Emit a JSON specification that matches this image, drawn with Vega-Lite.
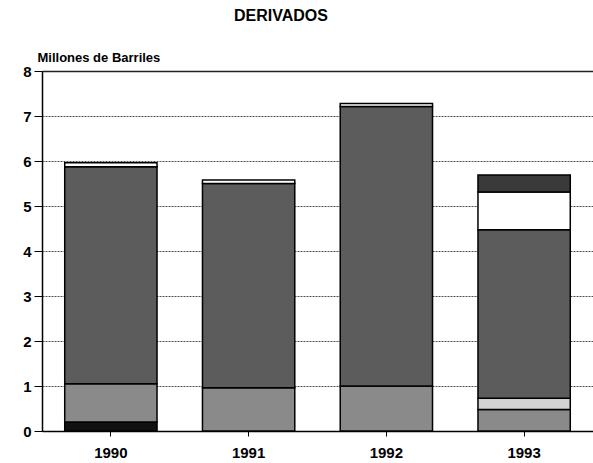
{
  "$schema": "https://vega.github.io/schema/vega-lite/v6.json",
  "autosize": "none",
  "width": 551,
  "height": 360,
  "padding": {"left": 42, "top": 71, "right": 0, "bottom": 32},
  "background": "#ffffff",
  "config": {
    "view": {"stroke": null},
    "font": "Liberation Sans"
  },
  "title": {
    "text": "DERIVADOS",
    "anchor": "start",
    "frame": "group",
    "dx": 192,
    "offset": 27,
    "fontSize": 16,
    "fontWeight": "bold",
    "font": "Liberation Sans",
    "color": "#000"
  },
  "data": {
    "values": [
      {"anio": "1990", "tipo": "s1", "orden": 1, "valor": 0.2},
      {"anio": "1990", "tipo": "s2", "orden": 2, "valor": 0.85},
      {"anio": "1990", "tipo": "s4", "orden": 4, "valor": 4.82},
      {"anio": "1990", "tipo": "s5", "orden": 5, "valor": 0.09},
      {"anio": "1991", "tipo": "s2", "orden": 2, "valor": 0.96},
      {"anio": "1991", "tipo": "s4", "orden": 4, "valor": 4.54},
      {"anio": "1991", "tipo": "s5", "orden": 5, "valor": 0.08},
      {"anio": "1992", "tipo": "s2", "orden": 2, "valor": 1.0},
      {"anio": "1992", "tipo": "s4", "orden": 4, "valor": 6.21},
      {"anio": "1992", "tipo": "s5", "orden": 5, "valor": 0.07},
      {"anio": "1993", "tipo": "s2", "orden": 2, "valor": 0.48},
      {"anio": "1993", "tipo": "s3", "orden": 3, "valor": 0.25},
      {"anio": "1993", "tipo": "s4", "orden": 4, "valor": 3.74},
      {"anio": "1993", "tipo": "s5", "orden": 5, "valor": 0.84},
      {"anio": "1993", "tipo": "s6", "orden": 6, "valor": 0.38}
    ]
  },
  "mark": {"type": "bar", "stroke": "#000", "strokeWidth": 1.5},
  "encoding": {
    "x": {
      "field": "anio",
      "type": "nominal",
      "scale": {"paddingInner": 0.33, "paddingOuter": 0.165},
      "axis": {
        "title": null,
        "labelAngle": 0,
        "labelFontSize": 15,
        "labelFontWeight": "bold",
        "labelColor": "#000",
        "labelPadding": 9,
        "tickSize": 5,
        "tickColor": "#000",
        "domainColor": "#000",
        "domainWidth": 1.5,
        "grid": false
      }
    },
    "y": {
      "field": "valor",
      "type": "quantitative",
      "stack": "zero",
      "scale": {"domain": [0, 8], "nice": false},
      "axis": {
        "title": "Millones de Barriles",
        "titleAngle": 0,
        "titleAlign": "left",
        "titleBaseline": "alphabetic",
        "titleX": -5,
        "titleY": -10,
        "titleFontSize": 13,
        "titleFontWeight": "bold",
        "titleColor": "#000",
        "values": [0, 1, 2, 3, 4, 5, 6, 7, 8],
        "labelFontSize": 15,
        "labelFontWeight": "bold",
        "labelColor": "#000",
        "labelPadding": 3,
        "tickSize": 8,
        "tickColor": "#000",
        "domainColor": "#000",
        "domainWidth": 1.5,
        "grid": true,
        "gridColor": "#222",
        "gridDash": {"condition": {"test": "datum.value === 8", "value": []}, "value": [2, 1]},
        "gridWidth": {"condition": {"test": "datum.value === 8", "value": 1.6}, "value": 0.8}
      }
    },
    "color": {
      "field": "tipo",
      "type": "nominal",
      "scale": {
        "domain": ["s1", "s2", "s3", "s4", "s5", "s6"],
        "range": ["#111111", "#8a8a8a", "#d2d2d2", "#5c5c5c", "#ffffff", "#3a3a3a"]
      },
      "legend": null
    },
    "order": {"field": "orden", "type": "quantitative"}
  }
}
